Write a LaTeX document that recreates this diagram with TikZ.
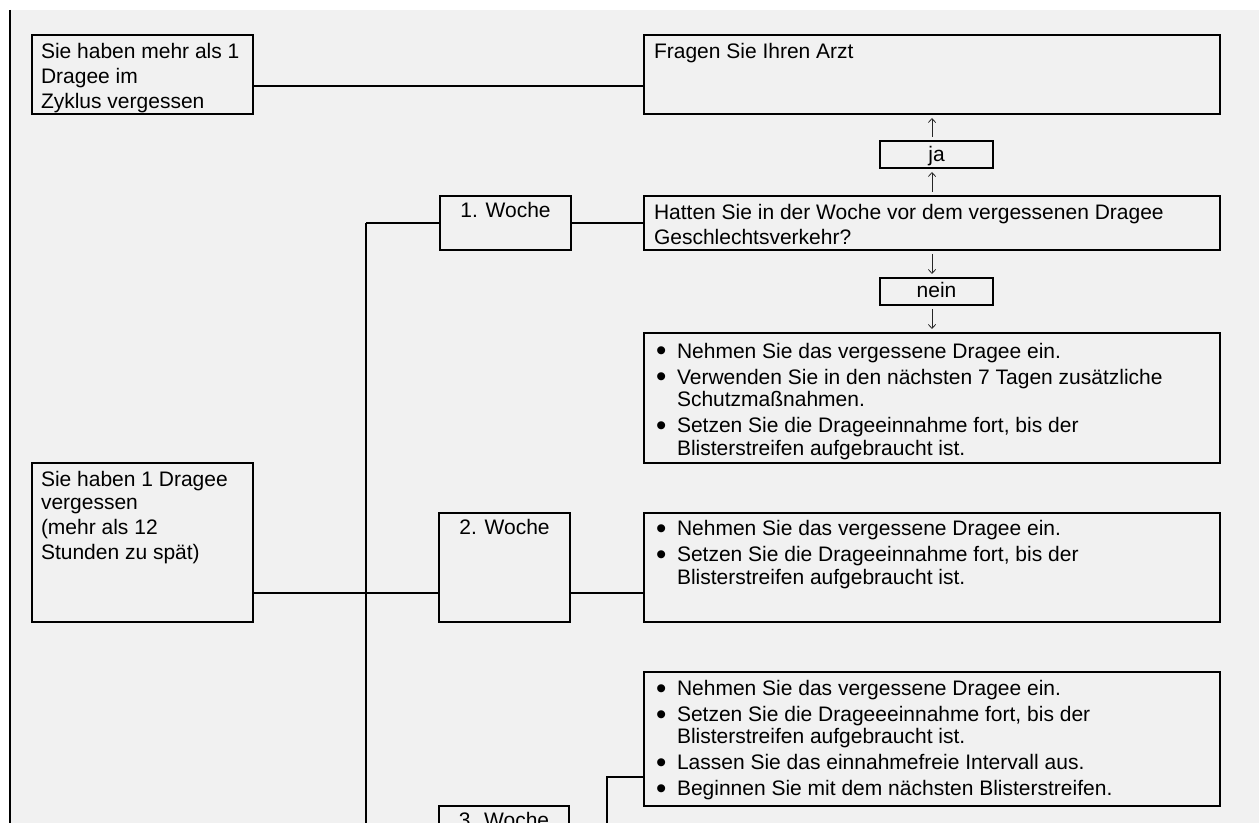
\documentclass[tikz,border=0pt]{standalone}
\usepackage{fontspec}
\usepackage{graphicx}
\setmainfont{Liberation Sans}
\usetikzlibrary{arrows.meta,calc}
\definecolor{bgray}{RGB}{241,241,241}
\newcommand\mystrut{\rule{0pt}{17.5pt}}
\newcommand\mybul{\makebox[15.75pt][l]{\smash{\raisebox{-2.2pt}{\scalebox{1.4}{•}}}}}
\newcommand\mybulind{\hspace*{15.75pt}}
\newcommand\mybox[5]{\node[box,minimum width={(#4-#2)*0.75pt},minimum height={(#5-#3)*0.75pt}] (#1) at (#2,#3) {};}
\begin{document}
\begin{tikzpicture}[x=0.75pt,y=-0.75pt,
  box/.style={draw=black,line width=1.1pt,inner sep=0pt,outer sep=0pt,anchor=north west},
  txt/.style={inner sep=0pt,outer sep=0pt,align=left,anchor=north west,font=\fontsize{15.75pt}{16.875pt}\selectfont,text=black},
  ctr/.style={inner sep=0pt,outer sep=0pt,anchor=base,font=\fontsize{15.75pt}{16.875pt}\selectfont,text=black},
  conn/.style={line width=1.1pt},
  trunk/.style={line width=1.9pt},
  arr/.style={line width=0.6pt,draw=black!85,-{Straight Barb[length=3pt,width=5.5pt]}}]
\useasboundingbox (0,0) rectangle (1259,823);
\clip (0,0) rectangle (1259,823);
\fill[white] (0,0) rectangle (1259,823);
\fill[bgray] (10,10) rectangle (1259,823);
\draw[trunk] (10,10) -- (10,830);

% boxes
\mybox{A}{32}{35}{253}{114}
\mybox{F}{644}{35}{1220}{114}
\mybox{ja}{880}{141}{993}{168}
\mybox{W1}{440}{196}{571}{250}
\mybox{H}{644}{196}{1220}{250}
\mybox{nein}{880}{278}{993}{305}
\mybox{L1}{644}{333}{1220}{463}
\mybox{B}{32}{463}{253}{622}
\mybox{W2}{439}{513}{570}{622}
\mybox{L2}{644}{513}{1220}{622}
\mybox{L3}{644}{672}{1220}{806}
\mybox{W3}{439}{806}{569}{900}

% texts
\node[txt] (tA) at (41,35) {\mystrut Sie haben mehr als 1\\[1.875pt]Dragee im\\[1.875pt]Zyklus vergessen};
\node[txt] (tF) at (654,35) {\mystrut Fragen Sie Ihren Arzt};
\node[ctr] (tja) at (936.5,162) {ja};
\node[ctr] (tW1) at (505.5,218) {1. Woche};
\node[txt] (tH) at (654,196) {\mystrut Hatten Sie in der Woche vor dem vergessenen Dragee\\[1.875pt]Geschlechtsverkehr?};
\node[ctr] (tnein) at (936.5,298) {nein};
\node[txt] (tL1) at (656,334.7) {\mystrut\mybul Nehmen Sie das vergessene Dragee ein.\\[2.625pt]
  \mybul Verwenden Sie in den nächsten 7 Tagen zusätzliche\\
  \mybulind Schutzmaßnahmen.\\[2.625pt]
  \mybul Setzen Sie die Drageeinnahme fort, bis der\\
  \mybulind Blisterstreifen aufgebraucht ist.};
\node[txt] (tB) at (41,463) {\mystrut Sie haben 1 Dragee\\[0.375pt]vergessen\\[1.875pt](mehr als 12\\[1.875pt]Stunden zu spät)};
\node[ctr] (tW2) at (504.5,534) {2. Woche};
\node[txt] (tL2) at (656,512.3) {\mystrut\mybul Nehmen Sie das vergessene Dragee ein.\\[2.625pt]
  \mybul Setzen Sie die Drageeinnahme fort, bis der\\
  \mybulind Blisterstreifen aufgebraucht ist.};
\node[txt] (tL3) at (656,672) {\mystrut\mybul Nehmen Sie das vergessene Dragee ein.\\[2.625pt]
  \mybul Setzen Sie die Drageeeinnahme fort, bis der\\
  \mybulind Blisterstreifen aufgebraucht ist.\\[2.625pt]
  \mybul Lassen Sie das einnahmefreie Intervall aus.\\[2.625pt]
  \mybul Beginnen Sie mit dem nächsten Blisterstreifen.};
\node[ctr] (tW3) at (504,827) {3. Woche};

% connectors
\coordinate (yA) at (0,86);
\coordinate (yB) at (0,593);
\coordinate (yC) at (0,777);
\coordinate (tr) at (366,223);
\coordinate (trb) at (366,830);
\coordinate (br) at (607,777);
\coordinate (brb) at (607,830);
\draw[conn] (A.east |- yA) -- (F.west |- yA);
\draw[conn] (tr) -- (W1.west);
\draw[trunk] (tr) -- (trb);
\draw[conn] (W1.east) -- (H.west);
\draw[conn] (B.east |- yB) -- (W2.west |- yB);
\draw[conn] (W2.east |- yB) -- (L2.west |- yB);
\draw[conn] (L3.west |- yC) -- (br) -- (brb);

% arrows
\draw[arr] ($(ja.north)+(-4.5,-4)$) -- ($(F.south -| ja.north)+(-4.5,4)$);
\draw[arr] ($(H.north -| ja.south)+(-4.5,-4)$) -- ($(ja.south)+(-4.5,4)$);
\draw[arr] ($(H.south -| nein.north)+(-4.5,4)$) -- ($(nein.north)+(-4.5,-4)$);
\draw[arr] ($(nein.south)+(-4.5,4)$) -- ($(L1.north -| nein.south)+(-4.5,-4)$);
\end{tikzpicture}
\end{document}
